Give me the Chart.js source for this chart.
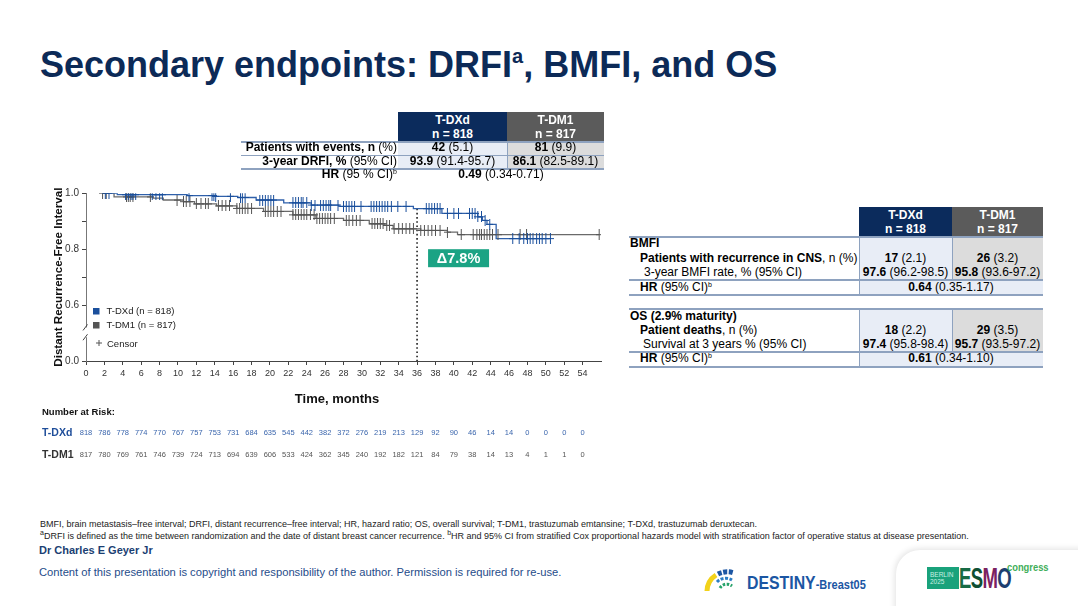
<!DOCTYPE html>
<html>
<head>
<meta charset="utf-8">
<title>Secondary endpoints: DRFI, BMFI, and OS</title>
<script src="https://cdn.jsdelivr.net/npm/chart.js@4.4.1/dist/chart.umd.min.js"></script>
<style>
  html, body { margin: 0; padding: 0; background: #fff; }
  body { width: 1078px; height: 606px; position: relative; overflow: hidden;
         font-family: "Liberation Sans", Arial, Helvetica, sans-serif; color: #000; }
  .abs { position: absolute; white-space: nowrap; }
  .title { left: 40px; top: 47px; font-size: 36px; font-weight: bold; color: #0c2a57; line-height: 36px; }
  .title sup { font-size: 20px; vertical-align: 14px; line-height: 0; }
  .c { position: absolute; display: flex; align-items: center; justify-content: center;
       font-size: 12px; white-space: nowrap; box-sizing: border-box; line-height: 13px; }
  .c sup, .foot sup { font-size: 7px; vertical-align: 4px; line-height: 0; }
  .hd { flex-direction: column; color: #fff; font-weight: bold; line-height: 14px; }
  .r { justify-content: flex-end; }
  .l { justify-content: flex-start; }
  .hl { position: absolute; height: 1.5px; background: #8ea2bf; }
  .vl { position: absolute; width: 1px; background: #8ea2bf; }
  #km { position: absolute; left: 0; top: 180px; }
  .foot { font-size: 9px; color: #222; left: 40px; }
</style>
</head>
<body>
<div class="abs title">Secondary endpoints: DRFI<sup>a</sup>, BMFI, and OS</div>
<canvas id="km" width="620" height="300"></canvas>

<div class="abs foot" style="top:519px">BMFI, brain metastasis–free interval; DRFI, distant recurrence–free interval; HR, hazard ratio; OS, overall survival; T-DM1, trastuzumab emtansine; T-DXd, trastuzumab deruxtecan.</div>
<div class="abs foot" style="top:531px"><sup>a</sup>DRFI is defined as the time between randomization and the date of distant breast cancer recurrence. <sup>b</sup>HR and 95% CI from stratified Cox proportional hazards model with stratification factor of operative status at disease presentation.</div>
<div class="abs" style="left:39px;top:544px;font-size:11px;font-weight:bold;color:#1b3f73">Dr Charles E Geyer Jr</div>
<div class="abs" style="left:39px;top:566px;font-size:11.2px;color:#1f4d8a">Content of this presentation is copyright and responsibility of the author. Permission is required for re-use.</div>

<svg class="abs" style="left:704px;top:567px" width="36" height="26" viewBox="0 0 36 26">
  <path d="M3 24 A20 20 0 0 1 12 8" stroke="#f2d21a" stroke-width="5" fill="none"/>
  <path d="M14 7 A20 20 0 0 1 30 6" stroke="#1c56a3" stroke-width="5" fill="none" stroke-dasharray="4 1.5"/>
  <path d="M13 15 A12 12 0 0 1 28 13" stroke="#2a7cc4" stroke-width="3" fill="none" stroke-dasharray="3 1.5"/>
  <path d="M16 21 A8 8 0 0 1 28 19" stroke="#27a36a" stroke-width="3" fill="none" stroke-dasharray="2.5 1.5"/>
</svg>
<div class="abs" style="left:747px;top:573px;font-size:18px;font-weight:bold;color:#1b56a3;transform:scaleX(0.88);transform-origin:left">DESTINY<span style="font-size:12.5px">-Breast05</span></div>

<div class="abs" style="left:896px;top:550px;width:200px;height:70px;background:#fff;border-radius:24px 0 0 0;box-shadow:-1px -1px 6px rgba(0,0,0,0.12)"></div>
<div class="abs" style="left:927px;top:567px;width:32px;height:22px;background:#19a27b;color:#c9f0e2;font-size:6.5px;line-height:7px;padding:4px 0 0 3px;box-sizing:border-box">BERLIN<br>2025</div>
<div class="abs" style="left:959px;top:564px;font-size:29px;font-weight:bold;line-height:29px;transform:scaleX(0.64);transform-origin:left;letter-spacing:-1px"><span style="color:#176b45">E</span><span style="color:#0f4f33">S</span><span style="color:#7b2160">M</span><span style="color:#1d3f70">O</span></div>
<div class="abs" style="left:1007px;top:561px;font-size:11px;font-weight:bold;color:#3fae5a;transform:scaleX(0.85);transform-origin:left">congress</div>

<script>
// ---- data ----
const months = [0, 2, 4, 6, 8, 10, 12, 14, 16, 18, 20, 22, 24, 26, 28, 30, 32, 34, 36, 38, 40, 42, 44, 46, 48, 50, 52, 54];
const narDXd = [818, 786, 778, 774, 770, 767, 757, 753, 731, 684, 635, 545, 442, 382, 372, 276, 219, 213, 129, 92, 90, 46, 14, 14, 0, 0, 0, 0];
const narDM1 = [817, 780, 769, 761, 746, 739, 724, 713, 694, 639, 606, 533, 424, 362, 345, 240, 192, 182, 121, 84, 79, 38, 14, 13, 4, 1, 1, 0];

// KM steps (time in months, DRFI)
const dxdTimes = [1.8, 3.4, 11.0, 14.0, 16.5, 18.5, 21.5, 24.5, 27.5, 35.6, 38.7, 42.6, 43.1, 43.6, 44.6, 50.5];
const dxdSurv  = [1.000, 0.995, 0.992, 0.989, 0.985, 0.976, 0.966, 0.958, 0.953, 0.945, 0.928, 0.916, 0.903, 0.889, 0.838, 0.838];
const dm1Times = [1.8, 3.05, 7.3, 8.4, 10.6, 11.8, 14.2, 16.4, 19.3, 22.5, 25.0, 28.0, 30.8, 32.5, 33.4, 36.4, 39.3, 40.4, 55.8];
const dm1Surv  = [1.000, 0.987, 0.983, 0.976, 0.970, 0.962, 0.955, 0.946, 0.935, 0.923, 0.910, 0.903, 0.891, 0.885, 0.873, 0.867, 0.861, 0.852, 0.852];

// censoring times
const dxdCensor = [2.1, 2.5, 4.3, 4.6, 4.9, 5.1, 5.4, 7.2, 7.6, 8.0, 8.3, 11.2, 13.7, 13.9, 14.1, 15.7, 16.8, 17.0, 17.3,
  18.9, 19.2, 19.5, 19.8, 20.1, 20.4, 22.5, 22.8, 23.1, 23.4, 23.6, 24.0, 24.5, 24.9, 25.5, 25.8, 26.1, 26.4, 26.6,
  27.4, 28.0, 28.3, 28.6, 28.9, 29.2, 29.9, 31.0, 31.3, 31.6, 31.9, 32.2, 32.5, 32.8, 33.2, 33.9, 34.8, 37.0, 37.3,
  37.6, 37.9, 38.2, 38.5, 39.3, 40.0, 40.5, 41.7, 42.0, 42.3, 42.6, 43.0, 43.4, 43.9, 46.4, 47.1, 47.6, 48.0, 48.3,
  48.6, 49.0, 49.3, 49.6, 50.0, 50.5];
const dm1Censor = [1.8, 2.2, 4.4, 4.6, 4.8, 5.1, 7.0, 9.9, 10.6, 10.9, 11.3, 12.0, 12.5, 13.0, 13.3, 14.4, 14.8, 15.2,
  15.6, 16.4, 16.7, 17.0, 17.3, 17.6, 18.0, 19.5, 19.8, 20.1, 20.4, 20.8, 21.2, 22.5, 22.8, 23.1, 23.4, 23.7, 24.0,
  24.4, 24.8, 25.1, 25.4, 25.7, 26.0, 26.3, 26.6, 27.0, 28.3, 28.6, 29.0, 29.4, 29.8, 31.1, 31.4, 31.7, 32.0, 32.3,
  32.7, 33.0, 33.5, 34.0, 34.4, 34.8, 35.2, 35.6, 36.4, 36.8, 37.2, 37.6, 38.0, 38.5, 39.3, 40.8, 42.1, 42.5, 42.8,
  43.0, 43.3, 43.6, 43.9, 44.2, 44.8, 47.2, 47.9, 55.8];

// y axis is broken: the bottom tick (0.4 on the scale) is labelled 0.0
const yTickVals = [0.4, 0.6, 0.7, 0.8, 0.9, 1.0];
const yTickText = ['0.0', '0.6', '', '0.8', '', '1.0'];

const BLUE = '#2f60aa', BLUE_D = '#1a4f9c', GREY = '#6a6a6a', GREY_D = '#555555';
const NAVY = '#0b2b5c', HGREY = '#5b5b5b', LB = '#e8edf6', LG = '#dcdcdc';

function survAt(T, S, t) {
  let s = S[0];
  for (let i = 0; i < T.length; i++) if (T[i] <= t) s = S[i];
  return s;
}
function pts(T, S) { return T.map((t, i) => ({ x: t, y: S[i] })); }

function crossImg(color) {
  const c = document.createElement('canvas');
  c.width = 7; c.height = 11;
  const g = c.getContext('2d');
  g.fillStyle = color;
  g.fillRect(3, 0, 1, 11);
  g.fillRect(0, 5, 7, 1);
  return c;
}

Chart.defaults.font.family = '"Liberation Sans", Arial, sans-serif';

const kmExtras = {
  id: 'kmExtras',
  beforeDatasetsDraw(chart) {
    const { ctx, scales: { x, y }, chartArea } = chart;
    const x36 = x.getPixelForValue(36);
    ctx.save();
    ctx.strokeStyle = '#222';
    ctx.lineWidth = 1.6;
    ctx.setLineDash([1.6, 2.6]);
    ctx.beginPath();
    ctx.moveTo(x36, y.getPixelForValue(survAt(dxdTimes, dxdSurv, 36)));
    ctx.lineTo(x36, chartArea.bottom);
    ctx.stroke();
    ctx.restore();
  },
  afterDraw(chart) {
    const { ctx, scales: { x, y }, chartArea } = chart;
    ctx.save();
    // axis break
    const ax = chartArea.left;
    const yb1 = y.getPixelForValue(0.52), yb2 = y.getPixelForValue(0.485);
    ctx.fillStyle = '#fff';
    ctx.fillRect(ax - 2, yb1, 4, yb2 - yb1);
    ctx.strokeStyle = '#444';
    ctx.lineWidth = 1;
    [yb1, yb2].forEach(yy => {
      ctx.beginPath();
      ctx.moveTo(ax - 3, yy + 3);
      ctx.lineTo(ax + 1.5, yy - 3);
      ctx.stroke();
    });

    // delta box
    const bx = x.getPixelForValue(36) + 11, by = y.getPixelForValue(0.8);
    ctx.fillStyle = '#1ba384';
    ctx.fillRect(bx, by, 61, 18);
    ctx.fillStyle = '#fff';
    ctx.font = 'bold 14.5px "Liberation Sans", Arial, sans-serif';
    ctx.textAlign = 'center';
    ctx.textBaseline = 'middle';
    ctx.fillText('Δ7.8%', bx + 30.5, by + 9.5);

    // legend inside plot
    ctx.textAlign = 'left';
    ctx.font = '9.5px "Liberation Sans", Arial, sans-serif';
    ctx.fillStyle = BLUE_D; ctx.fillRect(93, 128, 6.5, 6.5);
    ctx.fillStyle = GREY_D; ctx.fillRect(93, 142, 6.5, 6.5);
    ctx.fillStyle = '#222';
    ctx.fillText('T-DXd (n = 818)', 106.5, 131.5);
    ctx.fillText('T-DM1 (n = 817)', 106.5, 145.5);
    ctx.fillText('Censor', 107, 164);
    ctx.strokeStyle = '#555';
    ctx.beginPath();
    ctx.moveTo(99, 160); ctx.lineTo(99, 166);
    ctx.moveTo(96, 163); ctx.lineTo(102, 163);
    ctx.stroke();

    // axis titles
    ctx.fillStyle = '#111';
    ctx.font = 'bold 11.6px "Liberation Sans", Arial, sans-serif';
    ctx.save();
    ctx.translate(59, (chartArea.top + chartArea.bottom) / 2);
    ctx.rotate(-Math.PI / 2);
    ctx.textAlign = 'center';
    ctx.fillText('Distant Recurrence-Free Interval', 0, 0);
    ctx.restore();
    ctx.font = 'bold 13px "Liberation Sans", Arial, sans-serif';
    ctx.textAlign = 'center';
    ctx.fillText('Time, months', 337, 219);

    // number at risk
    ctx.textAlign = 'left';
    ctx.font = 'bold 9.5px "Liberation Sans", Arial, sans-serif';
    ctx.fillText('Number at Risk:', 42, 232);
    ctx.font = 'bold 10.5px "Liberation Sans", Arial, sans-serif';
    ctx.fillStyle = '#1f4e9a';
    ctx.fillText('T-DXd', 42, 253);
    ctx.fillStyle = '#333';
    ctx.fillText('T-DM1', 42, 275);
    ctx.font = '7.5px "Liberation Sans", Arial, sans-serif';
    ctx.textAlign = 'center';
    months.forEach((m, i) => {
      const px = x.getPixelForValue(m);
      ctx.fillStyle = '#3b66ad';
      ctx.fillText(narDXd[i], px, 253);
      ctx.fillStyle = '#555';
      ctx.fillText(narDM1[i], px, 275);
    });
    ctx.restore();
  }
};

new Chart(document.getElementById('km'), {
  type: 'line',
  data: {
    datasets: [
      { label: 'T-DXd censor', data: dxdCensor.map(t => ({ x: t, y: survAt(dxdTimes, dxdSurv, t) })),
        showLine: false, pointStyle: crossImg(BLUE_D), pointRadius: 5, order: 1 },
      { label: 'T-DM1 censor', data: dm1Censor.map(t => ({ x: t, y: survAt(dm1Times, dm1Surv, t) })),
        showLine: false, pointStyle: crossImg(GREY_D), pointRadius: 5, order: 2 },
      { label: 'T-DXd', data: pts(dxdTimes, dxdSurv), stepped: true, borderColor: BLUE, borderWidth: 1.3,
        pointRadius: 0, fill: false, order: 3 },
      { label: 'T-DM1', data: pts(dm1Times, dm1Surv), stepped: true, borderColor: GREY, borderWidth: 1.3,
        pointRadius: 0, fill: false, order: 4 }
    ]
  },
  options: {
    responsive: false,
    animation: false,
    layout: { padding: { top: 13.3, right: 19, left: 0, bottom: 0 } },
    plugins: { legend: { display: false }, tooltip: { enabled: false } },
    scales: {
      x: {
        type: 'linear', min: 0, max: 56,
        afterBuildTicks: s => { s.ticks = months.map(v => ({ value: v })); },
        afterFit: s => { s.height = 119; },
        ticks: { autoSkip: false, maxRotation: 0, font: { size: 9 }, color: '#333', padding: 3 },
        grid: { drawOnChartArea: false, tickLength: 4, color: '#444' },
        border: { color: '#444', width: 1 }
      },
      y: {
        type: 'linear', min: 0.4, max: 1.0,
        afterBuildTicks: s => { s.ticks = yTickVals.map(v => ({ value: v })); },
        afterFit: s => { s.width = 86; },
        ticks: { font: { size: 10 }, color: '#333', padding: 3, callback: (v, i) => yTickText[i] },
        grid: { drawOnChartArea: false, tickLength: 4, color: '#444' },
        border: { color: '#777', width: 1 }
      }
    }
  },
  plugins: [kmExtras]
});

// ---- tables ----
function cell(x, y, w, h, html, cls, bg) {
  const d = document.createElement('div');
  d.className = 'c ' + (cls || '');
  d.style.left = x + 'px'; d.style.top = y + 'px';
  d.style.width = w + 'px'; d.style.height = h + 'px';
  if (bg) d.style.background = bg;
  // wrap in one span so <sup> keeps inline alignment inside the flex cell
  d.innerHTML = (cls === 'hd') ? html : '<span>' + html + '</span>';
  document.body.appendChild(d);
}
function hline(x, y, w) {
  const d = document.createElement('div');
  d.className = 'hl';
  d.style.left = x + 'px'; d.style.top = y + 'px'; d.style.width = w + 'px';
  document.body.appendChild(d);
}
function vline(x, y, h) {
  const d = document.createElement('div');
  d.className = 'vl';
  d.style.left = x + 'px'; d.style.top = y + 'px'; d.style.height = h + 'px';
  document.body.appendChild(d);
}

// DRFI table
cell(398, 112, 109, 29, '<div>T-DXd</div><div>n = 818</div>', 'hd', NAVY);
cell(507, 112, 97, 29, '<div>T-DM1</div><div>n = 817</div>', 'hd', HGREY);
cell(398, 141, 109, 27, '', '', LB);
cell(507, 141, 97, 27, '', '', LG);
hline(241, 141, 363); hline(241, 154.5, 363); hline(241, 168, 363);
vline(507, 141, 27);
cell(200, 141, 197, 13.5, '<b>Patients with events, n</b> (%)', 'r');
cell(398, 141, 109, 13.5, '<b>42</b> (5.1)');
cell(507, 141, 97, 13.5, '<b>81</b> (9.9)');
cell(200, 154.5, 197, 13.5, '<b>3-year DRFI, %</b> (95% CI)', 'r');
cell(398, 154.5, 109, 13.5, '<b>93.9</b> (91.4-95.7)');
cell(507, 154.5, 97, 13.5, '<b>86.1</b> (82.5-89.1)');
cell(200, 168, 197, 13.5, '<b>HR</b> (95 % CI)<sup>b</sup>', 'r');
cell(398, 168, 206, 13.5, '<b>0.49</b> (0.34-0.71)');

// BMFI / OS table
cell(859, 207, 93, 29, '<div>T-DXd</div><div>n = 818</div>', 'hd', NAVY);
cell(952, 207, 91, 29, '<div>T-DM1</div><div>n = 817</div>', 'hd', HGREY);
cell(859, 236, 93, 43, '', '', LB); cell(952, 236, 91, 43, '', '', LG); cell(859, 279, 184, 15, '', '', LB);
cell(859, 308, 93, 43, '', '', LB); cell(952, 308, 91, 43, '', '', LG); cell(859, 351, 184, 15, '', '', LB);
[236, 279, 294, 308, 351, 366].forEach(yy => hline(629, yy, 414));
vline(859, 236, 58); vline(952, 236, 43); vline(859, 308, 58); vline(952, 308, 43);

cell(630, 236, 229, 14, '<b>BMFI</b>', 'l');
cell(640, 251, 219, 14, '<b>Patients with recurrence in CNS</b>, n (%)', 'l');
cell(859, 251, 93, 14, '<b>17</b> (2.1)');
cell(952, 251, 91, 14, '<b>26</b> (3.2)');
cell(644, 265, 215, 14, '3-year BMFI rate, % (95% CI)', 'l');
cell(859, 265, 93, 14, '<b>97.6</b> (96.2-98.5)');
cell(952, 265, 91, 14, '<b>95.8</b> (93.6-97.2)');
cell(640, 280, 219, 14, '<b>HR</b> (95% CI)<sup>b</sup>', 'l');
cell(859, 280, 184, 14, '<b>0.64</b> (0.35-1.17)');

cell(630, 309, 229, 14, '<b>OS (2.9% maturity)</b>', 'l');
cell(640, 323, 219, 14, '<b>Patient deaths</b>, n (%)', 'l');
cell(859, 323, 93, 14, '<b>18</b> (2.2)');
cell(952, 323, 91, 14, '<b>29</b> (3.5)');
cell(643, 337, 216, 14, 'Survival at 3 years % (95% CI)', 'l');
cell(859, 337, 93, 14, '<b>97.4</b> (95.8-98.4)');
cell(952, 337, 91, 14, '<b>95.7</b> (93.5-97.2)');
cell(640, 351.5, 219, 14, '<b>HR</b> (95% CI)<sup>b</sup>', 'l');
cell(859, 351.5, 184, 14, '<b>0.61</b> (0.34-1.10)');
</script>
</body>
</html>
